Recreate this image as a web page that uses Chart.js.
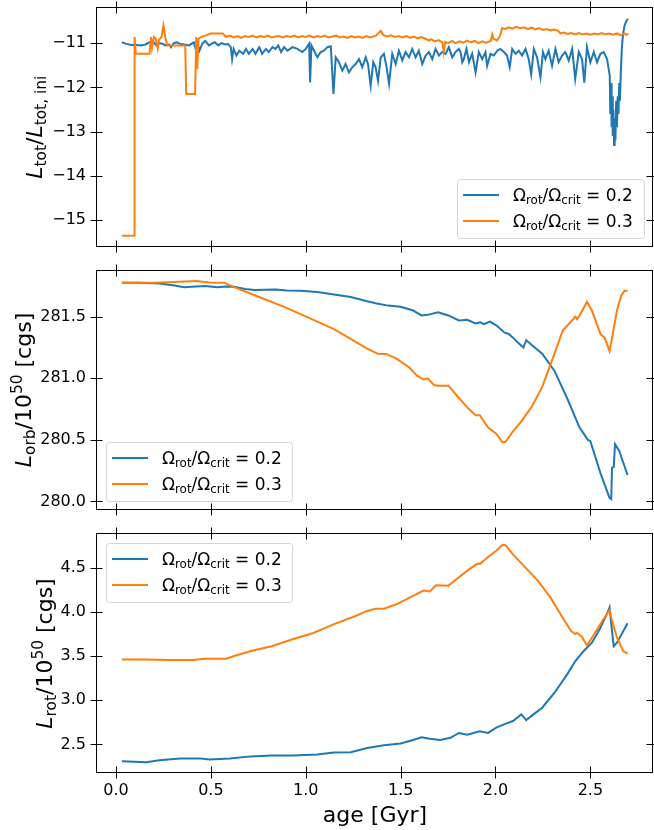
<!DOCTYPE html>
<html><head><meta charset="utf-8">
<script src="https://cdn.jsdelivr.net/npm/chart.js@4.4.1/dist/chart.umd.min.js"></script>
<style>
html,body{margin:0;padding:0;background:#fff;}
#wrap{position:relative;width:654px;height:830px;overflow:hidden;}
canvas{position:absolute;left:0;top:0;}
</style></head><body>
<div id="wrap">
<canvas id="c1" width="654" height="830" style="width:654px;height:830px"></canvas>
<canvas id="c2" width="654" height="830" style="width:654px;height:830px"></canvas>
<canvas id="c3" width="654" height="830" style="width:654px;height:830px"></canvas>
</div>
<script>
// ---------- DATA ----------
const xTicks = [0, 0.5, 1.0, 1.5, 2.0, 2.5];
const yTicksTot = [-15, -14, -13, -12, -11];
const yTicksOrb = [280.0, 280.5, 281.0, 281.5];
const yTicksRot = [2.5, 3.0, 3.5, 4.0, 4.5];
const seriesNames = ['0.2', '0.3'];

// L_tot / L_tot,ini, Omega = 0.2
const totAge02 = [0.031,0.05,0.08,0.11,0.133,0.155,0.177,0.195,0.212,0.23,0.245,0.26,0.28,0.29,0.305,0.32,0.335,0.36,0.385,0.41,0.42,0.43,0.44,0.455,0.47,0.49,0.505,0.52,0.54,0.555,0.575,0.59,0.605,0.612,0.62,0.635,0.65,0.67,0.685,0.70,0.72,0.735,0.755,0.77,0.79,0.805,0.825,0.84,0.855,0.87,0.886,0.904,0.93,0.956,0.982,1.0,1.018,1.023,1.03,1.044,1.061,1.079,1.096,1.114,1.132,1.146,1.158,1.175,1.193,1.21,1.228,1.246,1.263,1.281,1.298,1.316,1.328,1.342,1.356,1.368,1.381,1.395,1.412,1.426,1.439,1.456,1.474,1.491,1.509,1.526,1.544,1.561,1.579,1.596,1.614,1.632,1.649,1.667,1.684,1.702,1.719,1.737,1.754,1.772,1.789,1.807,1.816,1.825,1.833,1.847,1.86,1.877,1.895,1.912,1.93,1.947,1.956,1.974,1.991,2.009,2.026,2.044,2.061,2.075,2.088,2.105,2.123,2.14,2.158,2.175,2.188,2.202,2.219,2.237,2.25,2.263,2.28,2.298,2.316,2.333,2.351,2.368,2.386,2.404,2.42,2.439,2.456,2.468,2.482,2.5,2.518,2.535,2.553,2.57,2.588,2.602,2.605,2.609,2.612,2.615,2.618,2.621,2.625,2.628,2.632,2.636,2.640,2.644,2.648,2.652,2.656,2.660,2.666,2.672,2.680,2.690,2.697];
const totVal02 = [-10.98,-11.01,-11.04,-11.04,-11.05,-11.03,-10.98,-10.96,-11.05,-11.0,-11.01,-11.05,-11.03,-11.09,-11.0,-10.98,-11.01,-11.03,-11.05,-10.98,-11.13,-11.01,-11.17,-11.01,-10.95,-11.05,-11.01,-10.98,-11.05,-11.0,-11.03,-11.02,-11.09,-11.36,-11.13,-11.28,-11.17,-11.24,-11.13,-11.24,-11.13,-11.24,-11.09,-11.24,-11.13,-11.2,-11.09,-11.13,-11.05,-11.2,-11.09,-11.17,-11.09,-11.13,-11.2,-11.13,-11.01,-11.89,-11.05,-11.17,-11.32,-11.2,-11.17,-11.09,-11.07,-12.15,-11.32,-11.43,-11.62,-11.47,-11.66,-11.54,-11.47,-11.36,-11.54,-11.32,-11.47,-11.96,-11.43,-11.54,-11.85,-11.32,-11.24,-11.54,-11.92,-11.24,-11.47,-11.17,-11.39,-11.2,-11.32,-11.13,-11.32,-11.17,-11.47,-11.28,-11.2,-11.36,-11.13,-11.28,-11.2,-11.24,-11.09,-11.32,-11.2,-11.13,-11.2,-11.43,-11.36,-11.13,-11.43,-11.24,-11.66,-11.2,-11.36,-11.2,-11.51,-11.24,-11.28,-11.17,-11.13,-11.2,-11.28,-11.54,-11.13,-11.24,-11.17,-11.28,-11.13,-11.36,-11.7,-11.13,-11.32,-11.77,-11.2,-11.36,-11.17,-11.51,-11.13,-11.43,-11.28,-11.2,-11.39,-11.13,-11.81,-11.2,-11.36,-11.89,-11.09,-11.43,-11.2,-11.43,-11.24,-11.2,-11.36,-11.73,-12.6,-11.9,-12.9,-12.2,-13.1,-12.5,-13.3,-12.7,-13.2,-12.3,-12.9,-12.2,-12.6,-11.9,-12.3,-11.7,-11.1,-10.8,-10.6,-10.5,-10.45];

// L_tot / L_tot,ini, Omega = 0.3
const totAge03 = [0.031,0.095,0.098,0.105,0.177,0.185,0.19,0.2,0.21,0.22,0.227,0.24,0.25,0.26,0.27,0.365,0.37,0.417,0.423,0.428,0.435,0.45,0.47,0.5,0.563,0.58,0.60,0.62,0.64,0.66,0.68,0.70,0.72,0.74,0.76,0.78,0.80,0.82,0.84,0.86,0.88,0.90,0.92,0.94,0.96,0.98,1.00,1.02,1.04,1.06,1.08,1.10,1.12,1.14,1.16,1.18,1.20,1.22,1.24,1.26,1.28,1.30,1.32,1.34,1.37,1.395,1.41,1.43,1.45,1.47,1.49,1.51,1.53,1.55,1.57,1.59,1.61,1.63,1.65,1.66,1.68,1.70,1.72,1.727,1.735,1.75,1.77,1.79,1.81,1.83,1.85,1.87,1.89,1.91,1.93,1.95,1.975,1.983,1.99,2.009,2.024,2.035,2.05,2.07,2.09,2.11,2.13,2.15,2.17,2.19,2.21,2.23,2.25,2.27,2.29,2.31,2.33,2.342,2.36,2.38,2.40,2.42,2.44,2.46,2.48,2.50,2.52,2.54,2.56,2.58,2.60,2.62,2.64,2.66,2.68,2.69,2.70];
const totVal03 = [-15.35,-15.35,-10.86,-11.24,-11.24,-10.86,-11.1,-10.86,-10.9,-11.12,-10.92,-10.86,-10.6,-10.86,-11.05,-11.05,-12.15,-12.15,-10.86,-11.58,-10.9,-10.86,-10.83,-10.78,-10.78,-10.86,-10.83,-10.87,-10.84,-10.88,-10.84,-10.86,-10.83,-10.87,-10.84,-10.86,-10.83,-10.87,-10.85,-10.84,-10.87,-10.84,-10.86,-10.83,-10.87,-10.84,-10.86,-10.83,-10.87,-10.84,-10.86,-10.83,-10.87,-10.85,-10.83,-10.87,-10.85,-10.88,-10.84,-10.87,-10.85,-10.88,-10.84,-10.87,-10.83,-10.72,-10.82,-10.85,-10.82,-10.86,-10.84,-10.87,-10.84,-10.88,-10.85,-10.89,-10.86,-10.9,-10.94,-10.91,-10.96,-10.93,-10.98,-11.2,-10.97,-11.0,-10.95,-11.0,-10.96,-10.99,-10.94,-10.98,-10.95,-11.0,-10.96,-10.99,-10.95,-10.80,-10.9,-10.94,-10.83,-10.66,-10.68,-10.64,-10.67,-10.63,-10.66,-10.64,-10.68,-10.65,-10.69,-10.66,-10.70,-10.68,-10.71,-10.69,-10.72,-10.78,-10.76,-10.79,-10.77,-10.80,-10.77,-10.80,-10.78,-10.81,-10.78,-10.80,-10.77,-10.80,-10.78,-10.81,-10.78,-10.82,-10.78,-10.81,-10.79];

// L_orb / 1e50, Omega = 0.2
const orbAge02 = [0.031,0.12,0.228,0.30,0.36,0.42,0.47,0.535,0.58,0.623,0.68,0.732,0.842,0.90,0.973,1.06,1.149,1.237,1.324,1.368,1.434,1.5,1.566,1.61,1.643,1.697,1.73,1.752,1.807,1.851,1.895,1.92,1.939,1.971,2.004,2.048,2.07,2.092,2.125,2.147,2.162,2.191,2.246,2.311,2.377,2.443,2.487,2.50,2.553,2.601,2.61,2.614,2.623,2.63,2.652,2.696];
const orbVal02 = [281.776,281.776,281.77,281.755,281.74,281.745,281.75,281.74,281.745,281.744,281.725,281.717,281.72,281.712,281.71,281.70,281.68,281.66,281.625,281.61,281.59,281.58,281.55,281.51,281.515,281.535,281.52,281.51,281.47,281.475,281.446,281.455,281.44,281.46,281.43,281.37,281.36,281.33,281.28,281.25,281.31,281.27,281.20,281.06,280.84,280.60,280.50,280.49,280.23,280.03,280.02,280.275,280.28,280.465,280.41,280.215];

// L_orb / 1e50, Omega = 0.3
const orbAge03 = [0.031,0.2,0.3,0.425,0.49,0.568,0.623,0.754,0.886,1.017,1.149,1.259,1.324,1.379,1.423,1.478,1.544,1.588,1.621,1.643,1.676,1.697,1.752,1.807,1.86,1.895,1.917,1.961,2.004,2.037,2.053,2.092,2.136,2.191,2.246,2.311,2.355,2.41,2.42,2.43,2.443,2.482,2.508,2.553,2.575,2.601,2.618,2.64,2.662,2.68,2.696];
const orbVal03 = [281.776,281.776,281.782,281.79,281.778,281.776,281.74,281.66,281.58,281.49,281.40,281.30,281.24,281.20,281.198,281.16,281.09,281.02,280.99,281.0,280.945,280.94,280.94,280.84,280.75,280.70,280.70,280.60,280.55,280.48,280.485,280.57,280.65,280.77,280.93,281.20,281.39,281.48,281.50,281.48,281.51,281.62,281.55,281.36,281.33,281.22,281.36,281.55,281.67,281.71,281.71];

// L_rot / 1e50, Omega = 0.2
const rotAge02 = [0.031,0.16,0.228,0.338,0.448,0.492,0.6,0.711,0.82,0.93,1.06,1.149,1.237,1.324,1.412,1.5,1.566,1.61,1.654,1.708,1.763,1.807,1.851,1.917,1.961,2.004,2.048,2.092,2.136,2.162,2.2,2.246,2.311,2.377,2.42,2.465,2.508,2.553,2.586,2.601,2.61,2.623,2.64,2.696];
const rotVal02 = [2.311,2.30,2.32,2.34,2.34,2.33,2.34,2.365,2.375,2.375,2.387,2.41,2.412,2.46,2.49,2.51,2.55,2.58,2.565,2.55,2.575,2.63,2.61,2.65,2.63,2.69,2.73,2.765,2.84,2.775,2.84,2.915,3.085,3.29,3.44,3.557,3.65,3.82,3.97,4.05,3.86,3.61,3.65,3.87];

// L_rot / 1e50, Omega = 0.3
const rotAge03 = [0.031,0.15,0.272,0.404,0.47,0.58,0.623,0.711,0.82,0.93,1.04,1.149,1.259,1.324,1.368,1.412,1.478,1.566,1.621,1.654,1.686,1.752,1.807,1.873,1.906,1.917,1.961,2.004,2.037,2.053,2.092,2.158,2.224,2.29,2.355,2.399,2.42,2.43,2.456,2.482,2.508,2.564,2.601,2.614,2.64,2.673,2.696];
const rotVal03 = [3.462,3.462,3.455,3.455,3.47,3.47,3.50,3.557,3.61,3.69,3.76,3.86,3.95,4.01,4.036,4.036,4.085,4.18,4.24,4.23,4.30,4.296,4.39,4.50,4.545,4.54,4.62,4.69,4.757,4.754,4.65,4.50,4.35,4.16,3.93,3.78,3.75,3.762,3.715,3.62,3.707,3.90,4.02,3.90,3.71,3.557,3.526];

// ---------- RENDERING ----------
const FAMILY = "'DejaVu Sans', sans-serif";
const BLUE = '#1f77b4', ORANGE = '#ff7f0e';
const X_MIN = -0.1, X_MAX = 2.83;
const XH = 40;
const LEG_F = 17;

function pts(a, v) { return a.map((x, i) => ({x: x, y: v[i]})); }

function richWidth(ctx, parts, F) {
  let w = 0;
  for (const p of parts) {
    const size = p.s ? 0.7 * F : F;
    ctx.font = (p.i ? 'italic ' : '') + size + 'px ' + FAMILY;
    w += ctx.measureText(p.t).width;
  }
  return w;
}
function drawRich(ctx, parts, x, y, F) {
  let cx = x;
  ctx.textAlign = 'left';
  ctx.textBaseline = 'alphabetic';
  for (const p of parts) {
    const size = p.s ? 0.7 * F : F;
    ctx.font = (p.i ? 'italic ' : '') + size + 'px ' + FAMILY;
    const dy = p.s === 'sub' ? 0.2 * F : (p.s === 'sup' ? -0.42 * F : 0);
    ctx.fillText(p.t, cx, y + dy);
    cx += ctx.measureText(p.t).width;
  }
}
function legendParts(v) {
  return [{t: 'Ω'}, {t: 'rot', s: 'sub'}, {t: '/Ω'}, {t: 'crit', s: 'sub'}, {t: ' = ' + v}];
}

function panelPlugin(cfg) {
  return {
    id: 'panelDeco_' + cfg.id,
    afterDraw(chart) {
      const ctx = chart.ctx, a = chart.chartArea;
      const xs = chart.scales.x, ys = chart.scales.y;
      ctx.save();
      // legend
      const L = cfg.legend;
      ctx.beginPath();
      ctx.roundRect(L.x + 0.5, L.y + 0.5, L.w, L.h, 3);
      ctx.fillStyle = 'rgba(255,255,255,0.8)';
      ctx.fill();
      ctx.strokeStyle = 'rgba(204,204,204,0.8)';
      ctx.lineWidth = 1;
      ctx.stroke();
      const colors = [BLUE, ORANGE];
      seriesNames.forEach((n, i) => {
        const ry = L.y + 16 + i * 26;
        ctx.beginPath();
        ctx.strokeStyle = colors[i];
        ctx.lineWidth = 2;
        ctx.moveTo(L.x + 6, ry);
        ctx.lineTo(L.x + 42, ry);
        ctx.stroke();
        ctx.fillStyle = '#000';
        drawRich(ctx, legendParts(n), L.x + 56, ry + 6, LEG_F);
      });
      // frame
      ctx.strokeStyle = '#000';
      ctx.lineWidth = 1;
      const l = Math.round(a.left) - 0.5, r = Math.round(a.right) - 0.5;
      const t = Math.round(a.top) - 0.5, b = Math.round(a.bottom) - 0.5;
      ctx.strokeRect(l, t, r - l, b - t);
      // ticks (in-out) on all four sides
      ctx.beginPath();
      xTicks.forEach(v => {
        const px = Math.round(xs.getPixelForValue(v)) + 0.5;
        ctx.moveTo(px, t - 6); ctx.lineTo(px, t + 6);
        ctx.moveTo(px, b - 6); ctx.lineTo(px, b + 6);
      });
      cfg.yTicks.forEach(v => {
        const py = Math.round(ys.getPixelForValue(v)) + 0.5;
        ctx.moveTo(l - 6, py); ctx.lineTo(l + 6, py);
        ctx.moveTo(r - 6, py); ctx.lineTo(r + 6, py);
      });
      ctx.stroke();
      // y-axis title (rotated)
      ctx.fillStyle = '#000';
      const F = 22;
      const w = richWidth(ctx, cfg.ytitle, F);
      ctx.translate(cfg.ytitleX, (a.top + a.bottom) / 2);
      ctx.rotate(-Math.PI / 2);
      drawRich(ctx, cfg.ytitle, -w / 2, 0, F);
      ctx.setTransform(1, 0, 0, 1, 0, 0);
      // x-axis title
      if (cfg.showX) {
        ctx.font = '22px ' + FAMILY;
        ctx.textAlign = 'center';
        ctx.textBaseline = 'alphabetic';
        ctx.fillText('age [Gyr]', (a.left + a.right) / 2, 822);
      }
      ctx.restore();
    }
  };
}

function makePanel(cfg) {
  const xh = cfg.showX ? XH : 0;
  const padBottom = 830 - cfg.bottom - xh;
  new Chart(document.getElementById(cfg.id), {
    type: 'line',
    data: {
      datasets: [
        {label: 'Ω_rot/Ω_crit = 0.2', data: pts(cfg.a02, cfg.v02), borderColor: BLUE, borderWidth: 2, pointRadius: 0, fill: false, tension: 0, order: 1},
        {label: 'Ω_rot/Ω_crit = 0.3', data: pts(cfg.a03, cfg.v03), borderColor: ORANGE, borderWidth: 2, pointRadius: 0, fill: false, tension: 0, order: 0}
      ]
    },
    options: {
      responsive: false, animation: false, devicePixelRatio: 1,
      events: [],
      layout: {padding: {top: cfg.top, bottom: padBottom, left: 0, right: 1}},
      plugins: {legend: {display: false}, tooltip: {enabled: false}},
      scales: {
        x: {
          type: 'linear', min: X_MIN, max: X_MAX, display: cfg.showX,
          grid: {display: false, drawTicks: false}, border: {display: false},
          ticks: {font: {family: FAMILY, size: 16}, color: '#000', padding: 8, autoSkip: false, maxRotation: 0,
                  callback: v => Number(v).toFixed(1)},
          afterBuildTicks: s => { s.ticks = xTicks.map(v => ({value: v})); },
          afterFit: s => { s.height = xh; s.paddingLeft = 0; s.paddingRight = 0; }
        },
        y: {
          type: 'linear', min: cfg.min, max: cfg.max,
          grid: {display: false, drawTicks: false}, border: {display: false},
          ticks: {font: {family: FAMILY, size: 16}, color: '#000', padding: 11, autoSkip: false, callback: cfg.fmt},
          afterBuildTicks: s => { s.ticks = cfg.yTicks.map(v => ({value: v})); },
          afterFit: s => { s.width = 97; s.paddingTop = 0; s.paddingBottom = 0; }
        }
      }
    },
    plugins: [panelPlugin(cfg)]
  });
}

makePanel({
  id: 'c1', top: 8, bottom: 246.5, min: -15.595, max: -10.205, showX: false,
  a02: totAge02, v02: totVal02, a03: totAge03, v03: totVal03, yTicks: yTicksTot,
  fmt: v => (v < 0 ? '\u2212' : '') + Math.abs(v).toFixed(0),
  legend: {x: 457, y: 179, w: 187, h: 59},
  ytitleX: 42,
  ytitle: [{t: 'L', i: true}, {t: 'tot', s: 'sub'}, {t: '/'}, {t: 'L', i: true}, {t: 'tot, ini', s: 'sub'}]
});
makePanel({
  id: 'c2', top: 270.5, bottom: 509.5, min: 279.935, max: 281.875, showX: false,
  a02: orbAge02, v02: orbVal02, a03: orbAge03, v03: orbVal03, yTicks: yTicksOrb,
  fmt: v => Number(v).toFixed(1),
  legend: {x: 106, y: 442, w: 186, h: 59},
  ytitleX: 31,
  ytitle: [{t: 'L', i: true}, {t: 'orb', s: 'sub'}, {t: '/10'}, {t: '50', s: 'sup'}, {t: ' [cgs]'}]
});
makePanel({
  id: 'c3', top: 534, bottom: 773, min: 2.177, max: 4.88, showX: true,
  a02: rotAge02, v02: rotVal02, a03: rotAge03, v03: rotVal03, yTicks: yTicksRot,
  fmt: v => Number(v).toFixed(1),
  legend: {x: 106, y: 543, w: 186, h: 59},
  ytitleX: 52,
  ytitle: [{t: 'L', i: true}, {t: 'rot', s: 'sub'}, {t: '/10'}, {t: '50', s: 'sup'}, {t: ' [cgs]'}]
});
</script>
</body></html>
